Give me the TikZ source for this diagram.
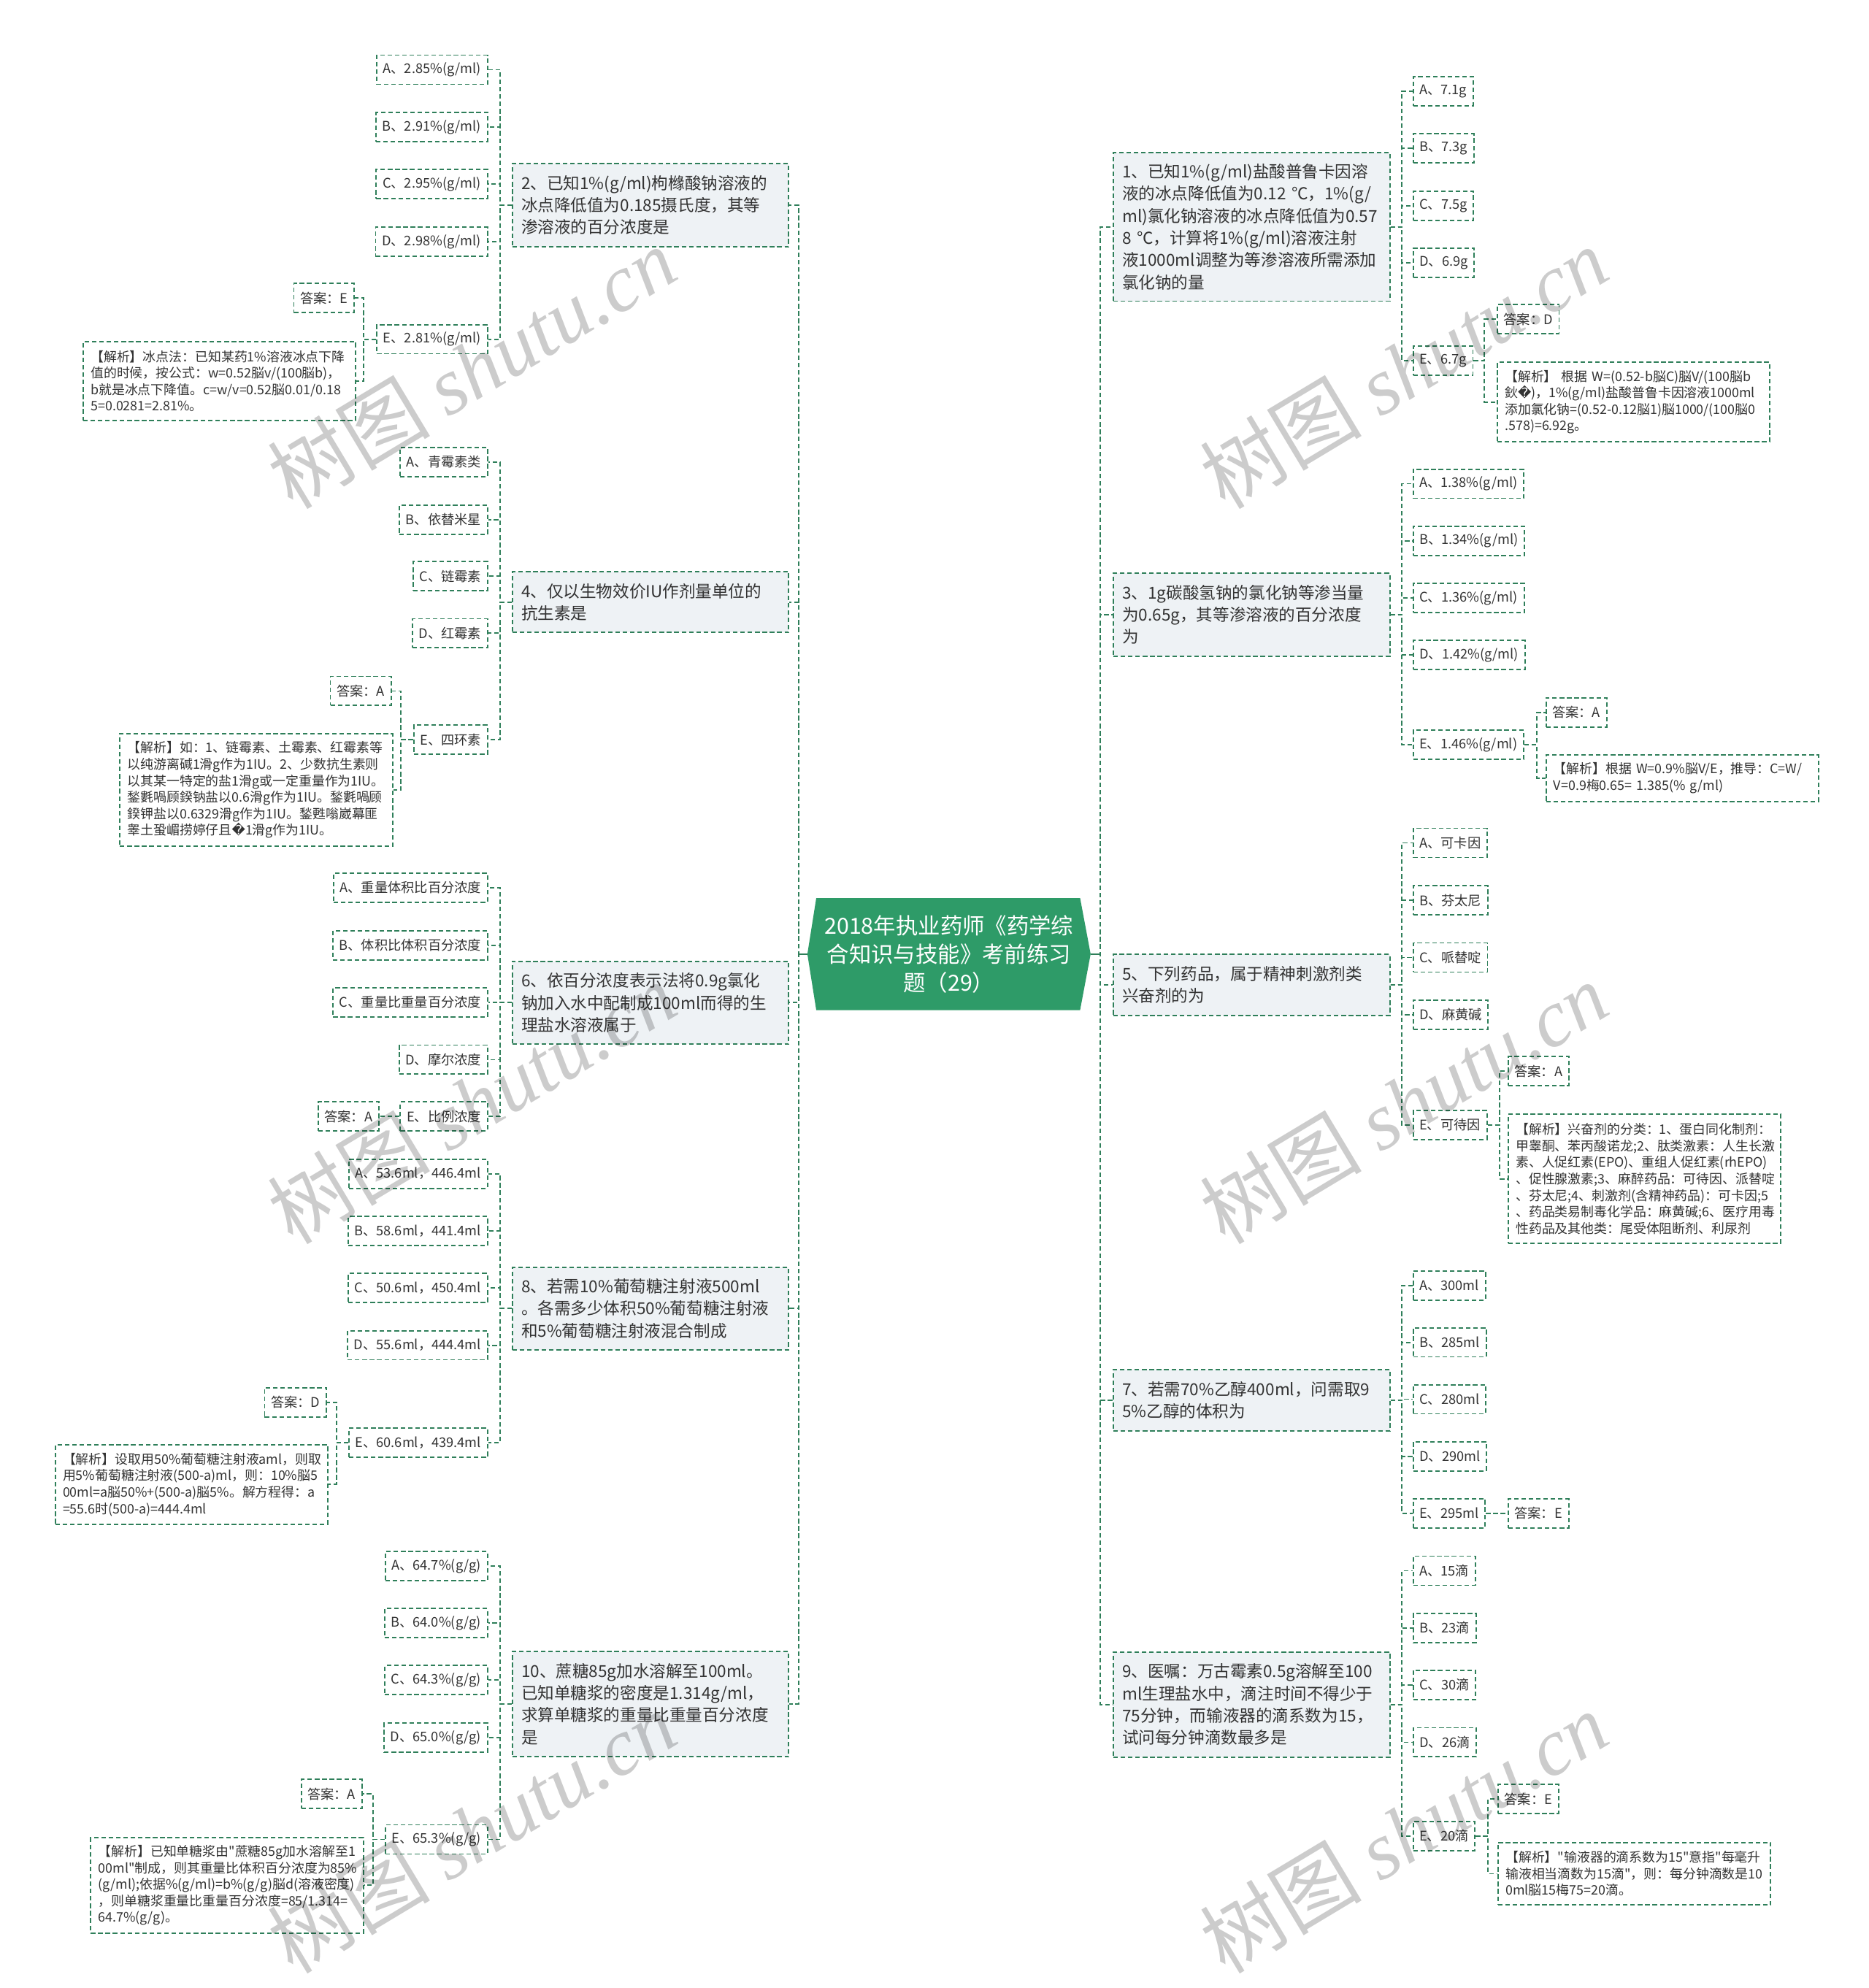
\documentclass[tikz,border=0pt]{standalone}
\usepackage{fontspec}
\setmainfont{Noto Sans CJK SC}
\newfontfamily\cjkplain{Noto Sans CJK SC}
\newfontfamily\dejavu{DejaVu Sans}
\newfontfamily\wmserif{Liberation Serif}
\usetikzlibrary{backgrounds}
\definecolor{lineC}{HTML}{2F7F5A}
\definecolor{rootC}{HTML}{2E9B68}
\definecolor{qfill}{HTML}{EEF2F5}
\definecolor{txtC}{HTML}{333333}
\newcommand{\rep}{{\dejavu\char"FFFD}}
\newcommand{\sdq}{{\cjkplain"}}
\begin{document}
\begin{tikzpicture}[x=1pt,y=-1pt,
  conn/.style={draw=lineC, line width=1.1pt, dash pattern=on 3.6pt off 2.2pt},
  solidconn/.style={draw=lineC, line width=1.3pt},
  bx/.style={draw=lineC, line width=1.1pt, dash pattern=on 3.6pt off 2.2pt, inner sep=0pt},
  qbox/.style={bx, fill=qfill, text width=204pt, inner xsep=7pt, inner ysep=0pt, align=left, font=\fontsize{13}{17.5}\selectfont, text=txtC, anchor=north west},
  opt/.style={bx, fill=white, inner xsep=5pt, minimum height=23pt, font=\fontsize{10.5}{12}\selectfont, text=txtC},
  expl/.style={bx, fill=white, text width=203pt, inner xsep=6pt, inner ysep=0pt, align=left, font=\fontsize{10.3}{13}\selectfont, anchor=north west, text=txtC},
  rootn/.style={minimum width=223pt, minimum height=88pt, inner sep=0pt, text=white, align=center, font=\fontsize{17.5}{22.5}\selectfont},
  wm/.style={rotate=31, text=black, text opacity=0.2, font=\fontsize{64}{64}\selectfont, inner sep=0pt}
]
\useasboundingbox (0,0) rectangle (1474,1568);

% root
\node[rootn] (root) at (748.5,752.5) {2018年执业药师《药学综\\合知识与技能》考前练习\\题（29）};
\begin{scope}[on background layer]
\fill[white] (0,0) rectangle (1474,1568);
\fill[rootC] ([xshift=7pt]root.north west) -- ([xshift=-8.3pt]root.north east) -- (root.east) -- ([xshift=-8.3pt]root.south east) -- ([xshift=7pt]root.south west) -- (root.west) -- cycle;
\end{scope}

% ===== LEFT QUESTIONS =====
\node[qbox, minimum height=65.6pt] (q2) at (403.6,128.4) {2、已知1\%(g/ml)枸橼酸钠溶液的\\冰点降低值为0.185摄氏度，其等\\渗溶液的百分浓度是};
\node[qbox, minimum height=48pt] (q4) at (403.6,450.3) {4、仅以生物效价IU作剂量单位的\\抗生素是};
\node[qbox, minimum height=65.4pt] (q6) at (403.6,757.6) {6、依百分浓度表示法将0.9g氯化\\钠加入水中配制成100ml而得的生\\理盐水溶液属于};
\node[qbox, minimum height=65pt] (q8) at (403.6,999) {8、若需10\%葡萄糖注射液500ml\\。各需多少体积50\%葡萄糖注射液\\和5\%葡萄糖注射液混合制成};
\node[qbox, minimum height=83pt] (q10) at (403.6,1302) {10、蔗糖85g加水溶解至100ml。\\已知单糖浆的密度是1.314g/ml，\\求算单糖浆的重量比重量百分浓度\\是};

% ===== RIGHT QUESTIONS =====
\node[qbox, minimum height=117.4pt] (q1) at (877.6,119.6) {1、已知1\%(g/ml)盐酸普鲁卡因溶\\液的冰点降低值为0.12~℃，1\%(g/\\ml)氯化钠溶液的冰点降低值为0.57\\8~℃，计算将1\%(g/ml)溶液注射\\液1000ml调整为等渗溶液所需添加\\氯化钠的量};
\node[qbox, minimum height=65.6pt] (q3) at (877.6,451.4) {3、1g碳酸氢钠的氯化钠等渗当量\\为0.65g，其等渗溶液的百分浓度\\为};
\node[qbox, minimum height=48pt] (q5) at (877.6,752.3) {5、下列药品，属于精神刺激剂类\\兴奋剂的为};
\node[qbox, minimum height=48.4pt] (q7) at (877.6,1079.6) {7、若需70\%乙醇400ml，问需取9\\5\%乙醇的体积为};
\node[qbox, minimum height=83pt] (q9) at (877.6,1302.3) {9、医嘱：万古霉素0.5g溶解至100\\ml生理盐水中，滴注时间不得少于\\75分钟，而输液器的滴系数为15，\\试问每分钟滴数最多是};

% root connectors
\foreach \q in {q2,q4,q6,q8,q10} \draw[conn] (root.west) -- ++(-7,0) |- (\q.east);
\foreach \q in {q1,q3,q5,q7,q9} \draw[conn] (root.east) -- ++(7.5,0) |- (\q.west);
\draw[solidconn] (root.west) -- ++(-7,0);
\draw[solidconn] (root.east) -- ++(7.5,0);

% ===== Q2 =====
\node[opt, anchor=east] (o2a) at (385,55) {A、2.85\%(g/ml)};
\node[opt, anchor=east] (o2b) at (385,100.2) {B、2.91\%(g/ml)};
\node[opt, anchor=east] (o2c) at (385,145.1) {C、2.95\%(g/ml)};
\node[opt, anchor=east] (o2d) at (385,190.5) {D、2.98\%(g/ml)};
\node[opt, anchor=east] (o2e) at (385,267.5) {E、2.81\%(g/ml)};
\node[opt, anchor=east] (a2) at (280,235) {答案：E};
\node[expl, minimum height=62pt] (e2) at (65,269) {【解析】冰点法：已知某药1\%溶液冰点下降\\值的时候，按公式：w=0.52脳v/(100脳b)，\\b就是冰点下降值。c=w/v=0.52脳0.01/0.18\\5=0.0281=2.81\%。};
\foreach \o in {o2a,o2b,o2c,o2d,o2e} \draw[conn] (q2.west) -- ++(-9,0) |- (\o.east);
\draw[conn] (o2e.west) -- ++(-10,0) |- (a2.east);
\draw[conn] (o2e.west) -- ++(-10,0) |- (e2.east);

% ===== Q4 =====
\node[opt, anchor=east] (o4a) at (385,364.5) {A、青霉素类};
\node[opt, anchor=east] (o4b) at (385,410) {B、依替米星};
\node[opt, anchor=east] (o4c) at (385,454.5) {C、链霉素};
\node[opt, anchor=east] (o4d) at (385,499.5) {D、红霉素};
\node[opt, anchor=east] (o4e) at (385,583.5) {E、四环素};
\node[opt, anchor=east] (a4) at (309,545) {答案：A};
\node[expl, minimum height=89pt] (e4) at (94,578) {【解析】如：1、链霉素、土霉素、红霉素等\\以纯游离碱1滑g作为1IU。2、少数抗生素则\\以其某一特定的盐1滑g或一定重量作为1IU。\\鍫氀喎顾鍨钠盐以0.6滑g作为1IU。鍫氀喎顾\\鍨钾盐以0.6329滑g作为1IU。鍫甦嗡崴幕匪\\睾土蛩嵋捞婷仔且\rep1滑g作为1IU。};
\foreach \o in {o4a,o4b,o4c,o4d,o4e} \draw[conn] (q4.west) -- ++(-9,0) |- (\o.east);
\draw[conn] (o4e.west) -- ++(-9.5,0) |- (a4.east);
\draw[conn] (o4e.west) -- ++(-9.5,0) |- (e4.east);

% ===== Q6 =====
\node[opt, anchor=east] (o6a) at (385,700.2) {A、重量体积比百分浓度};
\node[opt, anchor=east] (o6b) at (385,745.5) {B、体积比体积百分浓度};
\node[opt, anchor=east] (o6c) at (385,790.5) {C、重量比重量百分浓度};
\node[opt, anchor=east] (o6d) at (385,835.8) {D、摩尔浓度};
\node[opt, anchor=east] (o6e) at (385,880.5) {E、比例浓度};
\node[opt, anchor=east] (a6) at (299.4,880.5) {答案：A};
\foreach \o in {o6a,o6b,o6c,o6d,o6e} \draw[conn] (q6.west) -- ++(-9,0) |- (\o.east);
\draw[conn] (o6e.west) -- (a6.east);

% ===== Q8 =====
\node[opt, anchor=east] (o8a) at (385,925.7) {A、53.6ml，446.4ml};
\node[opt, anchor=east] (o8b) at (385,971) {B、58.6ml，441.4ml};
\node[opt, anchor=east] (o8c) at (385,1016) {C、50.6ml，450.4ml};
\node[opt, anchor=east] (o8d) at (385,1061) {D、55.6ml，444.4ml};
\node[opt, anchor=east] (o8e) at (385,1138) {E、60.6ml，439.4ml};
\node[opt, anchor=east] (a8) at (258,1106) {答案：D};
\node[expl, minimum height=62.6pt] (e8) at (43,1139) {【解析】设取用50\%葡萄糖注射液aml，则取\\用5\%葡萄糖注射液(500-a)ml，则：10\%脳5\\00ml=a脳50\%+(500-a)脳5\%。解方程得：a\\=55.6时(500-a)=444.4ml};
\foreach \o in {o8a,o8b,o8c,o8d,o8e} \draw[conn] (q8.west) -- ++(-9,0) |- (\o.east);
\draw[conn] (o8e.west) -- ++(-9.4,0) |- (a8.east);
\draw[conn] (o8e.west) -- ++(-9.4,0) |- (e8.east);

% ===== Q10 =====
\node[opt, anchor=east] (o10a) at (385,1235.3) {A、64.7\%(g/g)};
\node[opt, anchor=east] (o10b) at (385,1280.3) {B、64.0\%(g/g)};
\node[opt, anchor=east] (o10c) at (385,1325.2) {C、64.3\%(g/g)};
\node[opt, anchor=east] (o10d) at (385,1370.4) {D、65.0\%(g/g)};
\node[opt, anchor=east] (o10e) at (385,1450.8) {E、65.3\%(g/g)};
\node[opt, anchor=east] (a10) at (286,1415) {答案：A};
\node[expl, minimum height=75pt] (e10) at (71,1449) {【解析】已知单糖浆由\sdq 蔗糖85g加水溶解至1\\00ml\sdq 制成，则其重量比体积百分浓度为85\%\\(g/ml);依据\%(g/ml)=b\%(g/g)脳d(溶液密度)\\，则单糖浆重量比重量百分浓度=85/1.314=\\64.7\%(g/g)。};
\foreach \o in {o10a,o10b,o10c,o10d,o10e} \draw[conn] (q10.west) -- ++(-9,0) |- (\o.east);
\draw[conn] (o10e.west) -- ++(-9.4,0) |- (a10.east);
\draw[conn] (o10e.west) -- ++(-9.4,0) |- (e10.east);

% ===== Q1 =====
\node[opt, anchor=west] (o1a) at (1114,71.8) {A、7.1g};
\node[opt, anchor=west] (o1b) at (1114,117.1) {B、7.3g};
\node[opt, anchor=west] (o1c) at (1114,162.2) {C、7.5g};
\node[opt, anchor=west] (o1d) at (1114,207.2) {D、6.9g};
\node[opt, anchor=west] (o1e) at (1114,284.3) {E、6.7g};
\node[opt, anchor=west] (a1) at (1180.4,251.8) {答案：D};
\node[expl, minimum height=62.5pt] (e1) at (1180.4,285.3) {【解析】~根据~W=(0.52-b脳C)脳V/(100脳b\\鈥\rep)，1\%(g/ml)盐酸普鲁卡因溶液1000ml\\添加氯化钠=(0.52-0.12脳1)脳1000/(100脳0\\.578)=6.92g。};
\foreach \o in {o1a,o1b,o1c,o1d,o1e} \draw[conn] (q1.east) -- ++(9,0) |- (\o.west);
\draw[conn] (o1e.east) -- ++(8.6,0) |- (a1.west);
\draw[conn] (o1e.east) -- ++(8.6,0) |- (e1.west);

% ===== Q3 =====
\node[opt, anchor=west] (o3a) at (1114,381.5) {A、1.38\%(g/ml)};
\node[opt, anchor=west] (o3b) at (1114,426.5) {B、1.34\%(g/ml)};
\node[opt, anchor=west] (o3c) at (1114,471.6) {C、1.36\%(g/ml)};
\node[opt, anchor=west] (o3d) at (1114,516.7) {D、1.42\%(g/ml)};
\node[opt, anchor=west] (o3e) at (1114,587.3) {E、1.46\%(g/ml)};
\node[opt, anchor=west] (a3) at (1218.8,562) {答案：A};
\node[expl, minimum height=36.5pt] (e3) at (1218.8,595) {【解析】根据~W=0.9\%脳V/E，推导：C=W/\\V=0.9梅0.65=~1.385(\%~g/ml)};
\foreach \o in {o3a,o3b,o3c,o3d,o3e} \draw[conn] (q3.east) -- ++(9,0) |- (\o.west);
\draw[conn] (o3e.east) -- ++(10,0) |- (a3.west);
\draw[conn] (o3e.east) -- ++(10,0) |- (e3.west);

% ===== Q5 =====
\node[opt, anchor=west] (o5a) at (1114,664.8) {A、可卡因};
\node[opt, anchor=west] (o5b) at (1114,710.2) {B、芬太尼};
\node[opt, anchor=west] (o5c) at (1114,755.2) {C、哌替啶};
\node[opt, anchor=west] (o5d) at (1114,800.3) {D、麻黄碱};
\node[opt, anchor=west] (o5e) at (1114,887.2) {E、可待因};
\node[opt, anchor=west] (a5) at (1189,844.8) {答案：A};
\node[expl, minimum height=101.6pt] (e5) at (1189,878.4) {【解析】兴奋剂的分类：1、蛋白同化制剂：\\甲睾酮、苯丙酸诺龙;2、肽类激素：人生长激\\素、人促红素(EPO)、重组人促红素(rhEPO)\\、促性腺激素;3、麻醉药品：可待因、派替啶\\、芬太尼;4、刺激剂(含精神药品)：可卡因;5\\、药品类易制毒化学品：麻黄碱;6、医疗用毒\\性药品及其他类：尾受体阻断剂、利尿剂};
\foreach \o in {o5a,o5b,o5c,o5d,o5e} \draw[conn] (q5.east) -- ++(9,0) |- (\o.west);
\draw[conn] (o5e.east) -- ++(9.3,0) |- (a5.west);
\draw[conn] (o5e.east) -- ++(9.3,0) |- (e5.west);

% ===== Q7 =====
\node[opt, anchor=west] (o7a) at (1114,1013.8) {A、300ml};
\node[opt, anchor=west] (o7b) at (1114,1058.7) {B、285ml};
\node[opt, anchor=west] (o7c) at (1114,1103.6) {C、280ml};
\node[opt, anchor=west] (o7d) at (1114,1148.6) {D、290ml};
\node[opt, anchor=west] (o7e) at (1114,1193.6) {E、295ml};
\node[opt, anchor=west] (a7) at (1189,1193.6) {答案：E};
\foreach \o in {o7a,o7b,o7c,o7d,o7e} \draw[conn] (q7.east) -- ++(9,0) |- (\o.west);
\draw[conn] (o7e.east) -- (a7.west);

% ===== Q9 =====
\node[opt, anchor=west] (o9a) at (1114,1238.9) {A、15滴};
\node[opt, anchor=west] (o9b) at (1114,1284) {B、23滴};
\node[opt, anchor=west] (o9c) at (1114,1329) {C、30滴};
\node[opt, anchor=west] (o9d) at (1114,1374.2) {D、26滴};
\node[opt, anchor=west] (o9e) at (1114,1448.1) {E、20滴};
\node[opt, anchor=west] (a9) at (1181,1418.9) {答案：E};
\node[expl, minimum height=49.4pt] (e9) at (1181,1452.6) {【解析】\sdq 输液器的滴系数为15\sdq 意指\sdq 每毫升\\输液相当滴数为15滴\sdq ，则：每分钟滴数是10\\0ml脳15梅75=20滴。};
\foreach \o in {o9a,o9b,o9c,o9d,o9e} \draw[conn] (q9.east) -- ++(9,0) |- (\o.west);
\draw[conn] (o9e.east) -- ++(9.8,0) |- (a9.west);
\draw[conn] (o9e.east) -- ++(9.8,0) |- (e9.west);

% ===== watermarks =====
\node[wm] (wm1) at (372,290) {树图 {\wmserif\itshape shutu.cn}};
\node[wm] (wm2) at (1107,290) {树图 {\wmserif\itshape shutu.cn}};
\node[wm] (wm3) at (372,870) {树图 {\wmserif\itshape shutu.cn}};
\node[wm] (wm4) at (1107,870) {树图 {\wmserif\itshape shutu.cn}};
\node[wm] (wm5) at (372,1445) {树图 {\wmserif\itshape shutu.cn}};
\node[wm] (wm6) at (1107,1445) {树图 {\wmserif\itshape shutu.cn}};
\end{tikzpicture}
\end{document}
